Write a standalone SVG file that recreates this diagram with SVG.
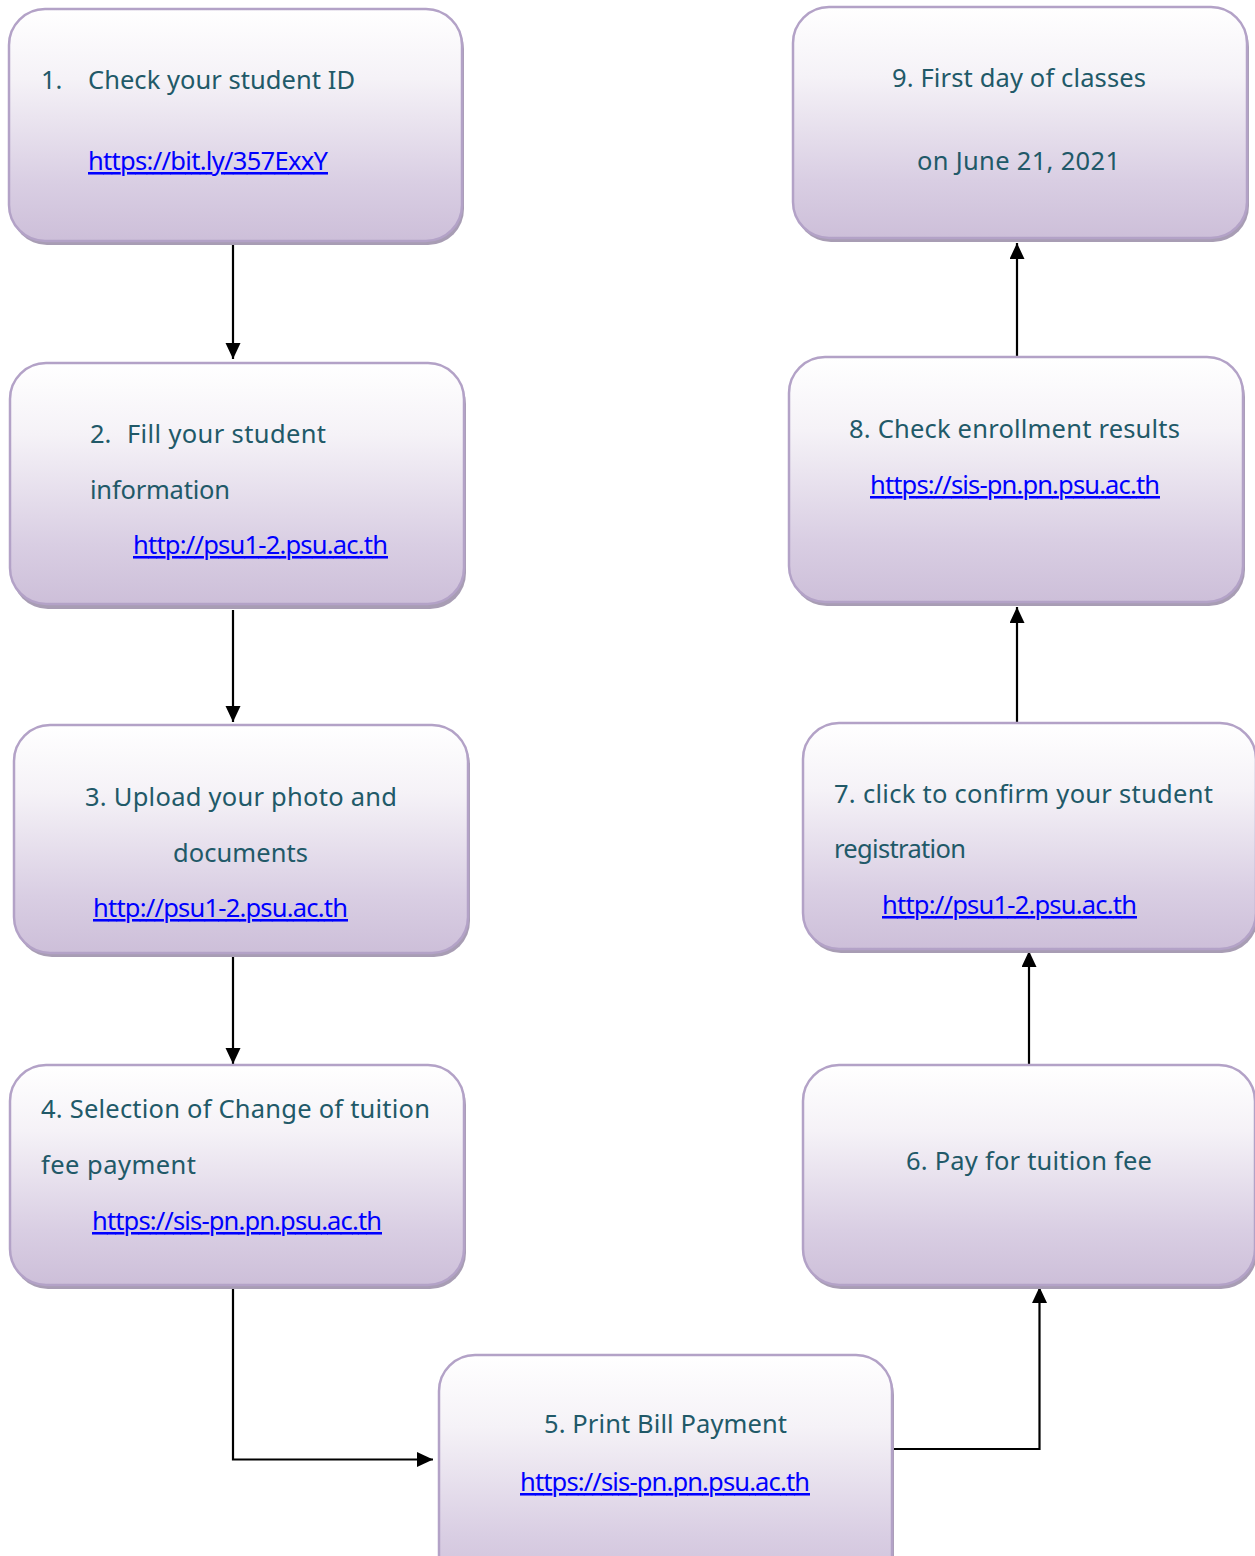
<svg xmlns="http://www.w3.org/2000/svg" width="1255" height="1556" viewBox="0 0 1255 1556">
<defs>
<linearGradient id="g" x1="0" y1="0" x2="0" y2="1">
<stop offset="0" stop-color="#ffffff"/>
<stop offset="0.3" stop-color="#f5f2f7"/>
<stop offset="0.75" stop-color="#d9cee3"/>
<stop offset="1" stop-color="#cdbfd9"/>
</linearGradient>
<marker id="ah" markerUnits="userSpaceOnUse" markerWidth="17" markerHeight="16" refX="16" refY="7.5" orient="auto">
<path d="M0,0 L16,7.5 L0,15 z" fill="#000"/>
</marker>
<style>
.sh{fill:#a89db4}
.bx{fill:url(#g);stroke:#b3a2c7;stroke-width:2.5}
.t{font-family:"Noto Sans","Liberation Sans",sans-serif;font-size:25.5px;fill:#215968}
.l{font-family:"Noto Sans","Liberation Sans",sans-serif;font-size:25.5px;fill:#0000ff;text-decoration:underline}
.c{fill:none;stroke:#000;stroke-width:2.2;marker-end:url(#ah)}
</style>
</defs>
<rect width="1255" height="1556" fill="#ffffff"/>

<g id="connectors">
<path class="c" d="M233,245 V359"/>
<path class="c" d="M233,610 V722"/>
<path class="c" d="M233,957 V1064"/>
<path class="c" d="M233,1289 V1459.5 H433"/>
<path class="c" d="M894,1449 H1039.5 V1287"/>
<path class="c" d="M1029,1066 V951"/>
<path class="c" d="M1017,723 V607"/>
<path class="c" d="M1017,357 V243"/>
</g>

<g id="node1">
<rect class="sh" x="11" y="13" width="453" height="232" rx="36"/>
<rect class="bx" x="9" y="9" width="453" height="232" rx="36"/>
<text class="t" x="41" y="89">1.</text>
<text class="t" x="88" y="89" textLength="267">Check your student ID</text>
<text class="l" x="88" y="170" textLength="240">https://bit.ly/357ExxY</text>
</g>

<g id="node2">
<rect class="sh" x="12" y="368" width="454" height="241" rx="36"/>
<rect class="bx" x="10" y="363" width="454" height="241" rx="36"/>
<text class="t" x="90" y="443">2.</text>
<text class="t" x="127" y="443" textLength="199">Fill your student</text>
<text class="t" x="90" y="499" textLength="140">information</text>
<text class="l" x="133" y="554" textLength="255">http://psu1-2.psu.ac.th</text>
</g>

<g id="node3">
<rect class="sh" x="16" y="729" width="454" height="228" rx="36"/>
<rect class="bx" x="14" y="725" width="454" height="228" rx="36"/>
<text class="t" x="85" y="806" textLength="312">3. Upload your photo and</text>
<text class="t" x="173" y="862" textLength="135">documents</text>
<text class="l" x="93" y="917" textLength="255">http://psu1-2.psu.ac.th</text>
</g>

<g id="node4">
<rect class="sh" x="12" y="1069" width="454" height="220" rx="36"/>
<rect class="bx" x="10" y="1065" width="454" height="220" rx="36"/>
<text class="t" x="41" y="1118" textLength="389">4. Selection of Change of tuition</text>
<text class="t" x="41" y="1174" textLength="155">fee payment</text>
<text class="l" x="92" y="1230" textLength="290">https://sis-pn.pn.psu.ac.th</text>
</g>

<g id="node5">
<rect class="sh" x="441" y="1359" width="453" height="240" rx="36"/>
<rect class="bx" x="439" y="1355" width="453" height="240" rx="36"/>
<text class="t" x="544" y="1433" textLength="243">5. Print Bill Payment</text>
<text class="l" x="520" y="1491" textLength="290">https://sis-pn.pn.psu.ac.th</text>
</g>

<g id="node6">
<rect class="sh" x="805" y="1069" width="452" height="220" rx="36"/>
<rect class="bx" x="803" y="1065" width="452" height="220" rx="36"/>
<text class="t" x="906" y="1170" textLength="246">6. Pay for tuition fee</text>
</g>

<g id="node7">
<rect class="sh" x="805" y="727" width="453" height="226" rx="36"/>
<rect class="bx" x="803" y="723" width="453" height="226" rx="36"/>
<text class="t" x="834" y="803" textLength="379">7. click to confirm your student</text>
<text class="t" x="834" y="858" textLength="132">registration</text>
<text class="l" x="882" y="914" textLength="255">http://psu1-2.psu.ac.th</text>
</g>

<g id="node8">
<rect class="sh" x="791" y="361" width="454" height="245" rx="36"/>
<rect class="bx" x="789" y="357" width="454" height="245" rx="36"/>
<text class="t" x="849" y="438" textLength="331">8. Check enrollment results</text>
<text class="l" x="870" y="494" textLength="290">https://sis-pn.pn.psu.ac.th</text>
</g>

<g id="node9">
<rect class="sh" x="795" y="11" width="454" height="231" rx="36"/>
<rect class="bx" x="793" y="7" width="454" height="231" rx="36"/>
<text class="t" x="892" y="87" textLength="254">9. First day of classes</text>
<text class="t" x="917" y="170" textLength="203">on June 21, 2021</text>
</g>
</svg>
